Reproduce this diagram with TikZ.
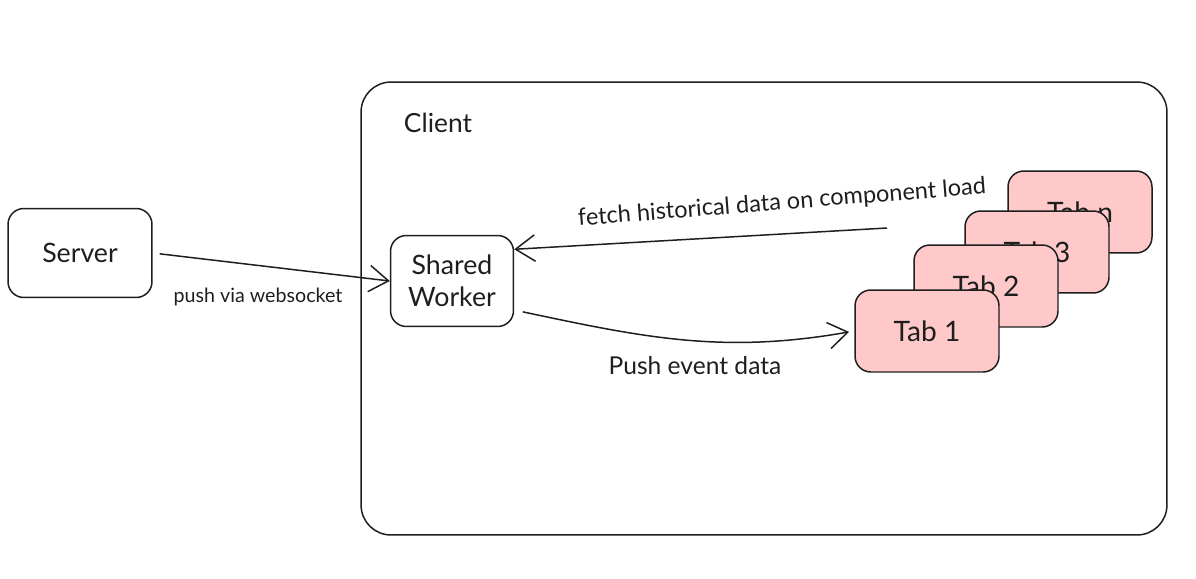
\documentclass[tikz,border=0pt]{standalone}
\usepackage{fontspec}
\setmainfont{Lato}
\usetikzlibrary{arrows.meta}
\definecolor{inkline}{HTML}{1E1E1E}
\definecolor{tabpink}{HTML}{FFC9C9}

\begin{document}
\begin{tikzpicture}[
    x=0.02cm, y=-0.02cm,
    line width=0.85pt,
    box/.style={draw=inkline, rounded corners=9pt, align=center, text=inkline,
        font=\fontsize{15.2}{18}\selectfont},
    frame/.style={draw=inkline, rounded corners=17pt, minimum width=16.12cm, minimum height=9.06cm},
    tabbox/.style={box, fill=tabpink, minimum width=2.88cm, minimum height=1.64cm,
        font=\fontsize{16}{16}\selectfont},
    flow/.style={draw=inkline, -{Straight Barb[length=11pt, width=15pt]}},
    lbl/.style={text=inkline, font=\fontsize{#1}{#1}\selectfont},
    lbl/.default=13.4
]
    \useasboundingbox (0,0) rectangle (1196,578);

    % Client container
    \node[frame] (client) at (764,308.5) {};
    \node[lbl=15] (clientlbl) at (438,123) {Client};

    % Server and worker
    \node[box, minimum width=2.88cm, minimum height=1.78cm] (server) at (80,253) {Server};
    \node[box, minimum width=2.46cm, minimum height=1.82cm] (worker) at (452,281) {Shared\\Worker};

    % Tabs (back to front)
    \node[tabbox] (tabn) at (1080,212) {Tab n};
    \node[tabbox] (tab3) at (1037,252) {Tab 3};
    \node[tabbox] (tab2) at (986,286) {Tab 2};
    \node[tabbox] (tab1) at (927,331) {Tab 1};

    % Free end of the fetch arrow
    \coordinate (fetchtail) at (887,228);

    % Connectors
    \draw[flow, shorten <=4pt] (server.east) -- (worker.west);
    \draw[flow] (fetchtail) -- (worker.27);
    \draw[flow, shorten <=5pt, shorten >=3pt] (worker.-25) to[out=-12, in=190] (tab1.west);

    % Labels
    \node[lbl=11.2] (pushlbl) at (258,297) {push via websocket};
    \node[lbl, rotate=4.5] (fetchlbl) at (782,203) {fetch historical data on component load};
    \node[lbl=14] (eventlbl) at (695,366) {Push event data};

\end{tikzpicture}
\end{document}
